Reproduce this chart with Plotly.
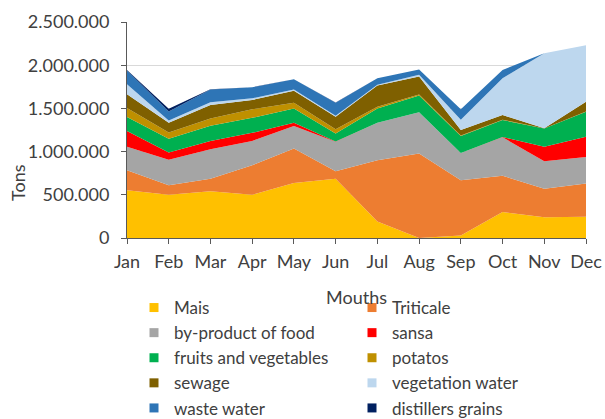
import plotly.graph_objects as go

months = ["Jan", "Feb", "Mar", "Apr", "May", "Jun", "Jul", "Aug", "Sep", "Oct", "Nov", "Dec"]

mais = [552000, 500000, 540000, 500000, 637000, 687000, 190000, 0, 30000, 300000, 240000, 245000]
triticale = [232000, 110000, 147000, 342000, 399000, 85000, 710000, 978000, 638000, 420000, 331000, 385000]
by_product = [271000, 295000, 341000, 282000, 259000, 341000, 435000, 477000, 317000, 445000, 317000, 308000]
sansa = [182000, 85000, 96000, 93000, 38000, 5000, 0, 0, 0, 5000, 167000, 233000]
fruits_veg = [163000, 160000, 176000, 174000, 167000, 92000, 165000, 195000, 195000, 195000, 213000, 290000]
potatos = [105000, 70000, 84000, 98000, 66000, 50000, 20000, 10000, 5000, 5000, 0, 4000]
sewage = [158000, 113000, 155000, 108000, 139000, 143000, 245000, 210000, 64000, 53000, 2000, 112000]
vegetation_water = [117000, 27000, 31000, 20000, 15000, 12000, 10000, 20000, 121000, 426000, 869000, 653000]
waste_water = [160000, 105000, 150000, 127000, 117000, 151000, 75000, 60000, 120000, 96000, 0, 0]
distillers_grains = [5000, 30000, 2000, 2000, 1000, 1000, 0, 0, 0, 0, 0, 0]

series_names = ["Mais", "Triticale", "by-product of food", "sansa", "fruits and vegetables",
                "potatos", "sewage", "vegetation water", "waste water", "distillers grains"]
series_values = [mais, triticale, by_product, sansa, fruits_veg, potatos, sewage,
                 vegetation_water, waste_water, distillers_grains]
series_colors = ["#FFC000", "#ED7D31", "#A5A5A5", "#FF0000", "#00B050",
                 "#BF9000", "#7F6000", "#BDD7EE", "#2E75B6", "#002060"]

y_ticks = [0, 500000, 1000000, 1500000, 2000000, 2500000]

x_idx = list(range(len(months)))

fig = go.Figure()
for name, vals, col in zip(series_names, series_values, series_colors):
    fig.add_trace(go.Scatter(
        x=x_idx, y=vals, name=name, mode="lines", stackgroup="one",
        line=dict(width=0, color=col), fillcolor=col, showlegend=False,
    ))
# legend entries with small square markers
for name, col in zip(series_names, series_colors):
    fig.add_trace(go.Scatter(
        x=[None], y=[None], name=name, mode="markers",
        marker=dict(symbol="square", size=9, color=col), showlegend=True,
    ))

FONT = "Lato"
TXT = "#404040"
TICK_SIZE = 18

fig.update_layout(
    width=605, height=419,
    margin=dict(l=127, r=19, t=22, b=181, autoexpand=False),
    paper_bgcolor="white", plot_bgcolor="white",
    separators=",.",
    font=dict(family=FONT, size=TICK_SIZE, color=TXT),
    showlegend=True,
    legend=dict(
        orientation="h", x=7 / 459, xanchor="left", y=-0.2407, yanchor="top",
        entrywidth=173, entrywidthmode="pixels", traceorder="normal",
        font=dict(family=FONT, size=17, color=TXT),
        itemwidth=30, tracegroupgap=0, bgcolor="rgba(0,0,0,0)",
    ),
    xaxis=dict(
        range=[0, 11], tickvals=x_idx, ticktext=months,
        showgrid=False, zeroline=False,
        showline=True, linecolor="#595959", linewidth=1,
        ticks="outside", ticklen=5, tickcolor="#595959",
        ticklabelstandoff=2,
        tickfont=dict(family=FONT, size=TICK_SIZE, color=TXT),
        title=dict(text="Mouths", font=dict(family=FONT, size=TICK_SIZE, color=TXT), standoff=20),
    ),
    yaxis=dict(
        range=[0, 2500000], tickvals=y_ticks, tickformat=",.0f",
        showgrid=True, gridcolor="#D9D9D9", gridwidth=1, zeroline=False,
        showline=True, linecolor="#595959", linewidth=1,
        ticks="outside", ticklen=5, tickcolor="#595959",
        ticklabelstandoff=8,
        tickfont=dict(family=FONT, size=TICK_SIZE, color=TXT),
    ),
    annotations=[dict(
        text="Tons", xref="paper", yref="paper", x=(18 - 127) / 459, y=(238 - 183) / 216,
        textangle=-90, showarrow=False, font=dict(family=FONT, size=TICK_SIZE, color=TXT),
        xanchor="center", yanchor="middle",
    )],
)

fig.write_html("out.html", config={"displayModeBar": False},
               post_script="document.body.style.margin='0';")
